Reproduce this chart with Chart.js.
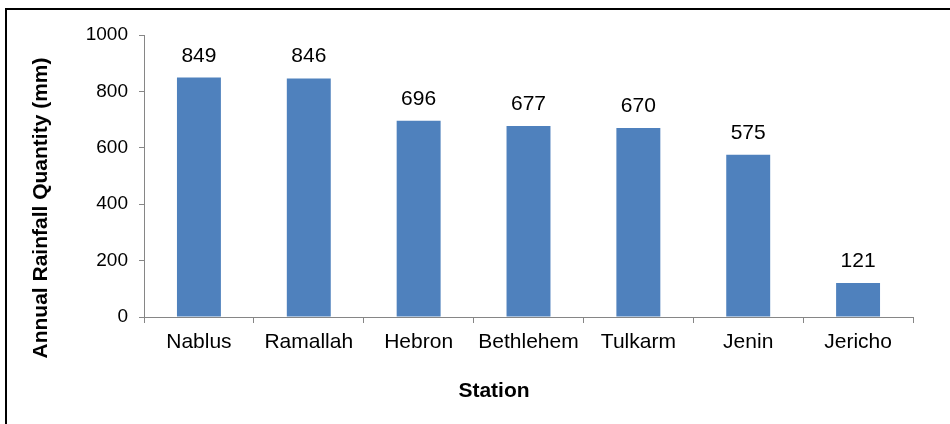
<!DOCTYPE html>
<html>
<head>
<meta charset="utf-8">
<script src="https://cdn.jsdelivr.net/npm/chart.js@4.4.0/dist/chart.umd.min.js"></script>
<style>
  html, body { margin: 0; padding: 0; background: #fff; overflow: hidden; }
  #wrap { position: relative; width: 950px; height: 424px; }
  #frame { position: absolute; left: 5px; top: 8px; right: 0; bottom: 0; border-top: 2px solid #000; border-left: 2px solid #000; }
  #rainChart { position: absolute; left: 0; top: 0; }
</style>
</head>
<body>
<div id="wrap">
  <div id="frame"></div>
  <canvas id="rainChart" width="950" height="424"></canvas>
</div>
<script>
// Chart data
const stations = ['Nablus', 'Ramallah', 'Hebron', 'Bethlehem', 'Tulkarm', 'Jenin', 'Jericho'];
const rainfall = [849, 846, 696, 677, 670, 575, 121];
const yTicks = [0, 200, 400, 600, 800, 1000];
const xTitle = 'Station';
const yTitle = 'Annual Rainfall Quantity (mm)';

const FONT = '"Liberation Sans", Arial, sans-serif';
const AXIS_GREY = '#868686';

// Value labels above each bar
const barLabels = {
    id: 'barLabels',
    afterDatasetsDraw(chart) {
        const ctx = chart.ctx;
        const meta = chart.getDatasetMeta(0);
        ctx.save();
        ctx.font = '21px ' + FONT;
        ctx.fillStyle = '#000';
        ctx.textAlign = 'center';
        ctx.textBaseline = 'alphabetic';
        meta.data.forEach((bar, i) => {
            ctx.fillText(String(rainfall[i]), bar.x, bar.y - 16);
        });
        ctx.restore();
    }
};

// Axis titles (placed like the Excel original, not centred on the plot)
const axisTitles = {
    id: 'axisTitles',
    afterDraw(chart) {
        const ctx = chart.ctx;
        ctx.save();
        ctx.font = 'bold 21px ' + FONT;
        ctx.fillStyle = '#000';
        ctx.textAlign = 'center';
        ctx.textBaseline = 'middle';
        ctx.fillText(xTitle, 494, 391);
        ctx.translate(41, 208);
        ctx.rotate(-Math.PI / 2);
        ctx.fillText(yTitle, 0, 0);
        ctx.restore();
    }
};

const ctx = document.getElementById('rainChart').getContext('2d');
new Chart(ctx, {
    type: 'bar',
    data: {
        labels: stations,
        datasets: [{
            data: rainfall,
            backgroundColor: '#4F81BD',
            borderWidth: 0,
            categoryPercentage: 0.8,
            barPercentage: 0.5
        }]
    },
    options: {
        responsive: false,
        animation: false,
        devicePixelRatio: 1,
        layout: { padding: { top: 35, right: 37, bottom: 0, left: 0 } },
        plugins: { legend: { display: false }, tooltip: { enabled: false } },
        scales: {
            x: {
                offset: true,
                grid: { offset: true, drawOnChartArea: false, tickLength: 6, color: AXIS_GREY },
                border: { color: AXIS_GREY, width: 1 },
                ticks: { color: '#000', font: { family: FONT, size: 21 }, padding: 7, maxRotation: 0 },
                afterFit: s => { s.height = 107; }
            },
            y: {
                min: 0,
                max: 1000,
                afterBuildTicks: s => { s.ticks = yTicks.map(v => ({ value: v })); },
                grid: { drawOnChartArea: false, tickLength: 5, color: AXIS_GREY },
                border: { color: AXIS_GREY, width: 1 },
                ticks: {
                    color: '#000',
                    font: { family: FONT, size: 19 },
                    padding: 11,
                    callback: v => String(v)
                },
                afterFit: s => { s.width = 144; }
            }
        }
    },
    plugins: [barLabels, axisTitles]
});
</script>
</body>
</html>
